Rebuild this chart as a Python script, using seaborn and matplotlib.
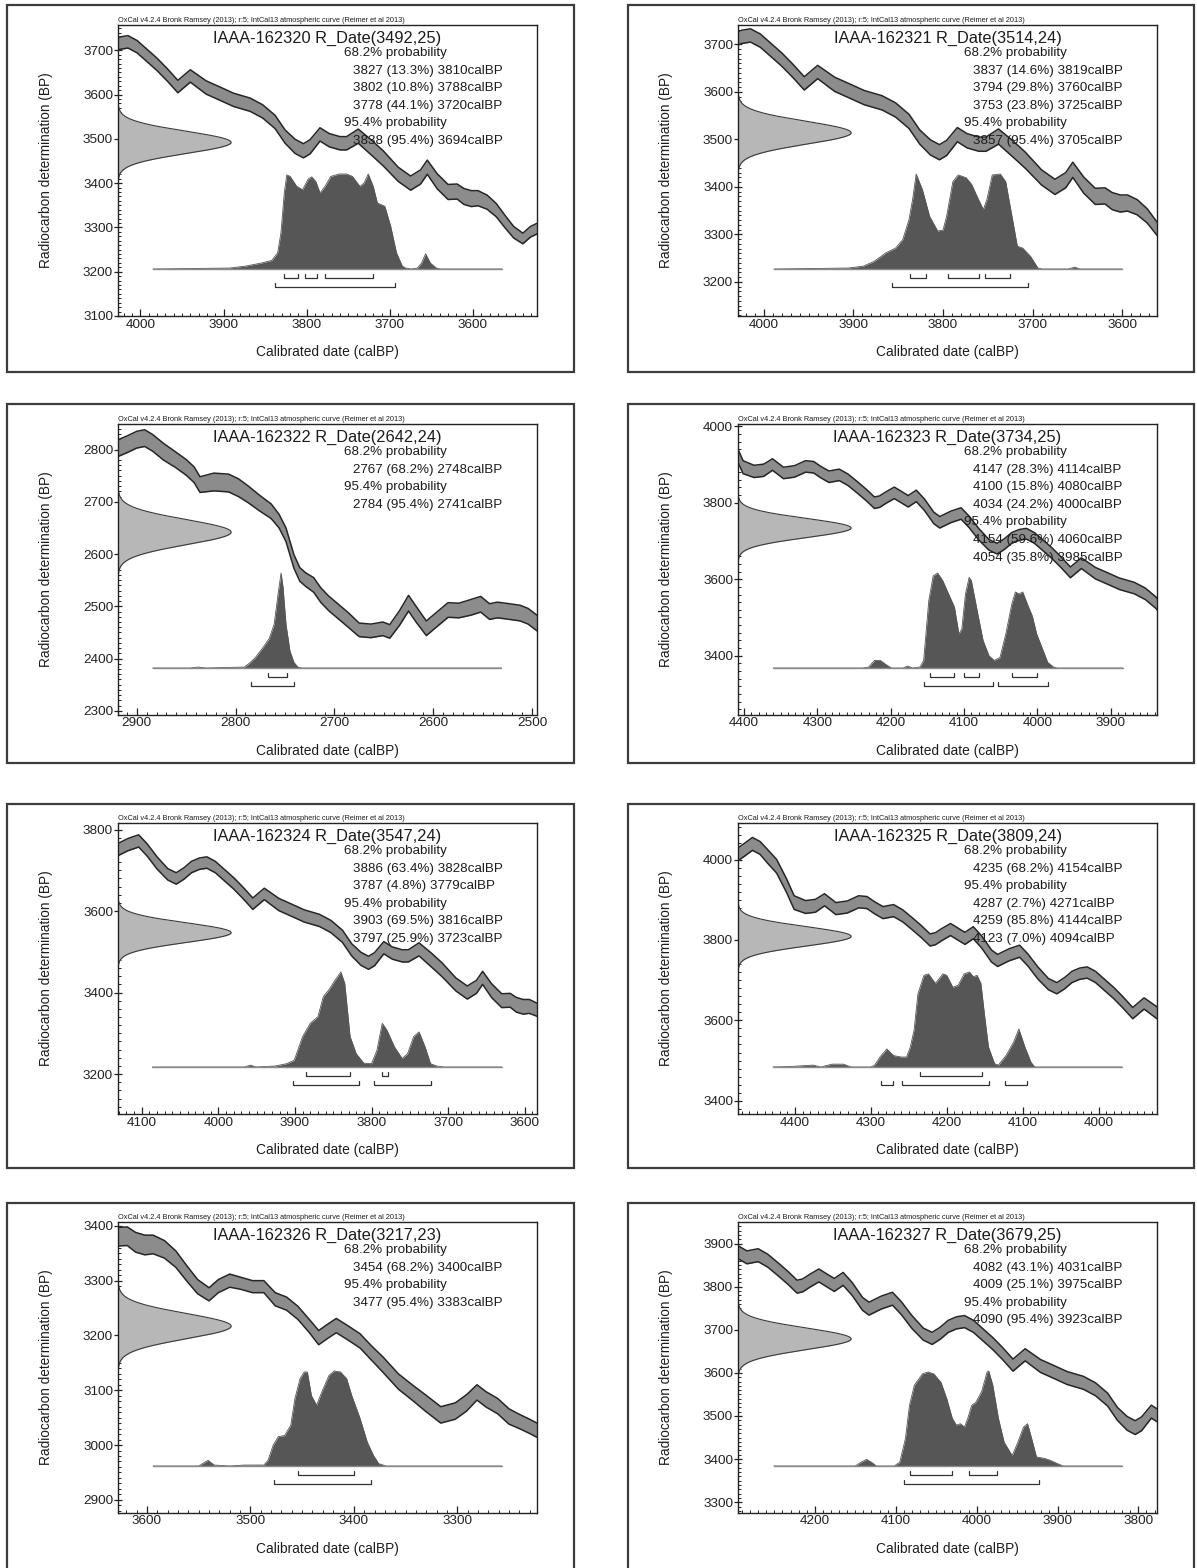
import numpy as np
import pandas as pd
import matplotlib
matplotlib.use("Agg")
import matplotlib.pyplot as plt
from matplotlib.patches import Rectangle
from matplotlib.ticker import MultipleLocator
import seaborn as sns

sns.set_theme(style="ticks")
plt.rcParams["font.family"] = ["Liberation Sans", "DejaVu Sans"]

HEADER = "OxCal v4.2.4 Bronk Ramsey (2013); r:5; IntCal13 atmospheric curve (Reimer et al 2013)"
X_LABEL = "Calibrated date (calBP)"
Y_LABEL = "Radiocarbon determination (BP)"

# ---- IntCal13 atmospheric curve (calBP, 14C BP, 1-sigma) ----
CURVE_A_CAL = [2495, 2504, 2512, 2523, 2535, 2543, 2552, 2562, 2574, 2585, 2597, 2607, 2617,
               2625, 2634, 2644, 2651, 2663, 2675, 2686, 2696, 2706, 2714, 2721, 2729, 2735,
               2741, 2749, 2756, 2764, 2776, 2787, 2797, 2807, 2822, 2836, 2842, 2850, 2861,
               2873, 2884, 2892, 2900, 2910, 2920]
CURVE_A_BP = [2468, 2481, 2487, 2490, 2493, 2490, 2504, 2498, 2492, 2493, 2474, 2458, 2484,
              2506, 2478, 2452, 2457, 2453, 2455, 2474, 2490, 2506, 2522, 2541, 2551, 2561,
              2586, 2637, 2663, 2682, 2698, 2714, 2727, 2736, 2738, 2733, 2752, 2766, 2781,
              2796, 2813, 2822, 2819, 2810, 2802]
CURVE_A_SIG = [15, 15, 15, 15, 15, 15, 15, 15, 14, 14, 14, 14, 15,
               15, 14, 13, 13, 13, 13, 14, 14, 14, 14, 14, 13, 13,
               13, 13, 13, 14, 15, 16, 17, 17, 17, 15, 15, 15, 15,
               16, 16, 16, 16, 16, 16]

CURVE_B_CAL = [3220, 3230, 3240, 3250, 3261, 3272, 3281, 3291, 3302, 3316, 3331, 3343, 3357,
               3372, 3383, 3394, 3406, 3417, 3425, 3434, 3443, 3454, 3465, 3476, 3487, 3498,
               3509, 3520, 3531, 3540, 3551, 3561, 3572, 3583, 3594, 3602, 3611, 3619, 3630,
               3643, 3655, 3663, 3675, 3690, 3708, 3722, 3738, 3752, 3760, 3773, 3784, 3796,
               3804, 3814, 3826, 3838, 3853, 3868, 3888, 3902, 3921, 3940, 3955, 3968, 3980,
               3992, 4004, 4015, 4025, 4035, 4045, 4055, 4066, 4080, 4093, 4104, 4118, 4133,
               4141, 4154, 4165, 4176, 4183, 4195, 4206, 4215, 4222, 4233, 4244, 4258, 4270,
               4284, 4295, 4305, 4316, 4331, 4346, 4361, 4373, 4386, 4401, 4411, 4424, 4436,
               4446, 4456, 4466, 4476]
CURVE_B_BP = [3024, 3034, 3043, 3052, 3071, 3083, 3096, 3077, 3062, 3055, 3077, 3095, 3116,
              3147, 3168, 3190, 3205, 3218, 3208, 3196, 3217, 3241, 3258, 3266, 3289, 3289,
              3295, 3300, 3290, 3275, 3289, 3312, 3339, 3357, 3366, 3365, 3370, 3381, 3380,
              3404, 3436, 3414, 3400, 3420, 3456, 3480, 3506, 3490, 3490, 3497, 3510, 3482,
              3473, 3483, 3505, 3538, 3562, 3577, 3588, 3600, 3616, 3642, 3618, 3645, 3668,
              3688, 3708, 3719, 3716, 3708, 3692, 3680, 3690, 3718, 3750, 3772, 3763, 3749,
              3760, 3795, 3818, 3804, 3812, 3826, 3814, 3803, 3800, 3820, 3838, 3860, 3873,
              3868, 3880, 3893, 3895, 3882, 3878, 3900, 3885, 3882, 3893, 3935, 3983, 4008,
              4029, 4039, 4025, 4012]
CURVE_B_SIG = [13, 13, 13, 14, 14, 14, 14, 15, 15, 15, 15, 14, 14,
               14, 13, 13, 13, 13, 13, 13, 12, 12, 12, 12, 11, 11,
               11, 12, 12, 12, 13, 14, 15, 16, 17, 18, 18, 17, 17,
               17, 16, 16, 16, 16, 17, 17, 16, 15, 15, 15, 15, 16,
               16, 16, 15, 15, 15, 15, 15, 15, 15, 14, 14, 14, 14,
               14, 14, 14, 14, 14, 14, 14, 14, 15, 15, 15, 15, 15,
               15, 15, 15, 15, 15, 15, 15, 15, 15, 15, 15, 15, 15,
               15, 15, 15, 15, 15, 15, 15, 16, 16, 17, 17, 17, 17,
               16, 16, 16, 16]

# ---- samples ----
LAB_CODES = ["IAAA-162320", "IAAA-162321", "IAAA-162322", "IAAA-162323",
             "IAAA-162324", "IAAA-162325", "IAAA-162326", "IAAA-162327"]
C14_AGE = [3492, 3514, 2642, 3734, 3547, 3809, 3217, 3679]
C14_ERR = [25, 24, 24, 25, 24, 24, 23, 25]

# calibrated ranges: (from, percent, to)
RANGES_68 = [
    [(3827, 13.3, 3810), (3802, 10.8, 3788), (3778, 44.1, 3720)],
    [(3837, 14.6, 3819), (3794, 29.8, 3760), (3753, 23.8, 3725)],
    [(2767, 68.2, 2748)],
    [(4147, 28.3, 4114), (4100, 15.8, 4080), (4034, 24.2, 4000)],
    [(3886, 63.4, 3828), (3787, 4.8, 3779)],
    [(4235, 68.2, 4154)],
    [(3454, 68.2, 3400)],
    [(4082, 43.1, 4031), (4009, 25.1, 3975)],
]
RANGES_95 = [
    [(3838, 95.4, 3694)],
    [(3857, 95.4, 3705)],
    [(2784, 95.4, 2741)],
    [(4154, 59.6, 4060), (4054, 35.8, 3985)],
    [(3903, 69.5, 3816), (3797, 25.9, 3723)],
    [(4287, 2.7, 4271), (4259, 85.8, 4144), (4123, 7.0, 4094)],
    [(3477, 95.4, 3383)],
    [(4090, 95.4, 3923)],
]

# calibrated probability distributions (calBP, relative probability)
DIST1_CAL = [3985, 3893, 3874, 3856, 3842, 3835, 3831, 3827, 3824, 3820, 3812, 3805, 3798,
             3794, 3789, 3784, 3778, 3771, 3761, 3752, 3745, 3736, 3731, 3726, 3720, 3715,
             3706, 3699, 3692, 3685, 3681, 3674, 3667, 3662, 3657, 3651, 3644, 3639, 3565]
DIST1_P = [0, 0.01, 0.03, 0.06, 0.09, 0.17, 0.38, 0.80, 0.99, 0.975, 0.87, 0.835, 0.95,
           0.97, 0.92, 0.80, 0.87, 0.975, 1.0, 1.0, 0.975, 0.87, 0.905, 1.0, 0.87, 0.695,
           0.66, 0.45, 0.17, 0.03, 0.01, 0, 0.01, 0.06, 0.16, 0.06, 0.01, 0, 0]
DIST2_CAL = [3989, 3906, 3889, 3877, 3864, 3853, 3845, 3838, 3834, 3830, 3823, 3815, 3806,
             3800, 3796, 3789, 3783, 3774, 3768, 3762, 3755, 3751, 3745, 3736, 3730, 3723,
             3717, 3711, 3702, 3694, 3689, 3660, 3653, 3647, 3600]
DIST2_P = [0, 0.01, 0.03, 0.08, 0.17, 0.22, 0.31, 0.52, 0.73, 1.0, 0.835, 0.555, 0.40,
           0.41, 0.555, 0.92, 0.99, 0.96, 0.89, 0.765, 0.625, 0.73, 0.99, 1.0, 0.92, 0.555,
           0.24, 0.22, 0.13, 0.01, 0, 0, 0.02, 0, 0]
DIST3_CAL = [2884, 2846, 2838, 2830, 2791, 2785, 2780, 2772, 2766, 2761, 2757, 2754, 2752,
             2749, 2745, 2741, 2737, 2733, 2531]
DIST3_P = [0, 0, 0.01, 0, 0.01, 0.06, 0.11, 0.22, 0.31, 0.46, 0.78, 1.0, 0.85,
           0.46, 0.18, 0.06, 0.01, 0, 0]
DIST4_CAL = [4360, 4238, 4230, 4222, 4214, 4207, 4199, 4183, 4177, 4170, 4160, 4155, 4148,
             4142, 4136, 4129, 4121, 4113, 4107, 4103, 4098, 4093, 4090, 4082, 4074, 4066,
             4059, 4051, 4043, 4035, 4030, 4025, 4020, 4012, 4007, 4001, 3994, 3986, 3978,
             3973, 3884]
DIST4_P = [0, 0, 0.01, 0.08, 0.08, 0.04, 0, 0, 0.02, 0, 0.01, 0.08, 0.71,
           0.97, 1.0, 0.92, 0.78, 0.64, 0.36, 0.41, 0.78, 0.955, 0.92, 0.60, 0.29, 0.13,
           0.08, 0.11, 0.36, 0.67, 0.80, 0.78, 0.80, 0.64, 0.55, 0.36, 0.22, 0.06, 0.01,
           0, 0]
DIST5_CAL = [4086, 3966, 3958, 3951, 3926, 3911, 3901, 3890, 3880, 3870, 3863, 3855, 3848,
             3840, 3835, 3828, 3820, 3810, 3800, 3793, 3786, 3780, 3770, 3760, 3753, 3745,
             3738, 3730, 3723, 3715, 3705, 3630]
DIST5_P = [0, 0, 0.02, 0, 0.01, 0.035, 0.07, 0.32, 0.46, 0.53, 0.74, 0.82, 0.91,
           1.0, 0.88, 0.32, 0.14, 0.04, 0.035, 0.175, 0.46, 0.39, 0.21, 0.09, 0.14, 0.32,
           0.37, 0.21, 0.035, 0.01, 0, 0]
DIST6_CAL = [4429, 4406, 4376, 4366, 4351, 4336, 4326, 4300, 4295, 4288, 4279, 4270, 4260,
             4253, 4248, 4243, 4238, 4230, 4224, 4215, 4205, 4200, 4192, 4185, 4177, 4170,
             4165, 4160, 4155, 4150, 4145, 4137, 4132, 4122, 4112, 4105, 4097, 4089, 4084,
             3969]
DIST6_P = [0, 0.005, 0.02, 0, 0.03, 0.03, 0, 0, 0.02, 0.105, 0.19, 0.12, 0.105,
           0.105, 0.21, 0.39, 0.77, 0.965, 0.98, 0.88, 0.98, 0.965, 0.84, 0.86, 0.98, 1.0,
           0.95, 0.965, 0.88, 0.53, 0.21, 0.035, 0.02, 0.12, 0.26, 0.40, 0.21, 0.05, 0,
           0]
DIST7_CAL = [3594, 3550, 3544, 3541, 3535, 3520, 3506, 3487, 3483, 3478, 3473, 3467, 3461,
             3457, 3452, 3448, 3445, 3441, 3436, 3431, 3424, 3419, 3413, 3407, 3402, 3394,
             3387, 3381, 3376, 3369, 3257]
DIST7_P = [0, 0, 0.04, 0.06, 0.01, 0, 0.01, 0.01, 0.06, 0.22, 0.31, 0.32, 0.43,
           0.71, 0.92, 0.99, 0.99, 0.74, 0.64, 0.78, 0.955, 1.0, 0.99, 0.92, 0.74, 0.50,
           0.25, 0.11, 0.025, 0, 0]
DIST8_CAL = [4251, 4150, 4143, 4136, 4130, 4124, 4102, 4095, 4088, 4083, 4077, 4067, 4060,
             4053, 4044, 4037, 4030, 4025, 4020, 4015, 4011, 4006, 4001, 3994, 3987, 3985,
             3980, 3973, 3966, 3956, 3949, 3942, 3937, 3932, 3926, 3916, 3909, 3900, 3893,
             3820]
DIST8_P = [0, 0, 0.04, 0.07, 0.04, 0, 0, 0.04, 0.29, 0.64, 0.85, 0.97, 0.99,
           0.97, 0.88, 0.71, 0.50, 0.43, 0.445, 0.41, 0.50, 0.64, 0.67, 0.78, 0.99, 1.0,
           0.85, 0.50, 0.25, 0.11, 0.25, 0.41, 0.445, 0.29, 0.095, 0.08, 0.06, 0.025, 0,
           0]

DISTS = [(DIST1_CAL, DIST1_P), (DIST2_CAL, DIST2_P), (DIST3_CAL, DIST3_P), (DIST4_CAL, DIST4_P),
         (DIST5_CAL, DIST5_P), (DIST6_CAL, DIST6_P), (DIST7_CAL, DIST7_P), (DIST8_CAL, DIST8_P)]

# axis ranges
X_RANGES = [(4027, 3523), (4029, 3561), (2919, 2495), (4408, 3837),
            (4131, 3584), (4475, 3923), (3628, 3223), (4295, 3777)]
Y_RANGES = [(3100, 3757), (3128, 3741), (2292, 2849), (3245, 4006),
            (3102, 3816), (3367, 4091), (2876, 3407), (3275, 3950)]
Y_STEPS = [100, 100, 100, 200, 200, 200, 100, 100]

# ---- layout (pixels) ----
W, H = 1197, 1568
AX_LEFT = [118, 738]
AX_TOP = [25, 424, 823, 1222]
AX_W, AX_H = 419, 291
BOX_LEFT = [7, 628]
BOX_W = [567, 566]
BOX_TOP = [5, 404, 804, 1203]
BOX_H = [367, 359, 364, 372]

BAND_FILL = "#8c8c8c"
EDGE = "#262626"
DIST_FILL = "#565656"
GAUSS_FILL = "#b7b7b7"
TEXT = "#1c1c1c"

BASE = 47 / AX_H          # baseline of calibrated distribution (axes fraction)
PEAK = 95 / AX_H          # height of tallest peak (axes fraction)
GAUSS_PEAK = 0.27         # height of the measured-date curve (axes fraction)

curve_a = pd.DataFrame({"cal": CURVE_A_CAL, "bp": CURVE_A_BP, "sig": CURVE_A_SIG})
curve_b = pd.DataFrame({"cal": CURVE_B_CAL, "bp": CURVE_B_BP, "sig": CURVE_B_SIG})
for c in (curve_a, curve_b):
    c["lo"] = c["bp"] - c["sig"]
    c["hi"] = c["bp"] + c["sig"]

fig = plt.figure(figsize=(W / 100, H / 100), dpi=100)
fig.patch.set_facecolor("white")


def px_rect(x, y, w, h):
    return [x / W, 1 - (y + h) / H, w / W, h / H]


def draw_panel(i):
    col, row = i % 2, i // 2
    # outer frame
    bx, by, bw, bh = px_rect(BOX_LEFT[col], BOX_TOP[row], BOX_W[col], BOX_H[row])
    fig.add_artist(Rectangle((bx, by), bw, bh, transform=fig.transFigure, fill=False,
                             lw=1.6, ec="#3c3c3c", zorder=0))

    ax = fig.add_axes(px_rect(AX_LEFT[col], AX_TOP[row], AX_W, AX_H))
    ax.set_facecolor("white")
    x0, x1 = X_RANGES[i]
    y0, y1 = Y_RANGES[i]

    # calibration curve band
    for c in (curve_a, curve_b):
        ax.fill_between(c["cal"], c["lo"], c["hi"], color=BAND_FILL, lw=0, zorder=2)
        sns.lineplot(data=c, x="cal", y="lo", ax=ax, color=EDGE, lw=1.1,
                     estimator=None, zorder=3)
        sns.lineplot(data=c, x="cal", y="hi", ax=ax, color=EDGE, lw=1.1,
                     estimator=None, zorder=3)

    # measured radiocarbon date on the y axis
    mu, sd = C14_AGE[i], C14_ERR[i]
    yy = np.linspace(mu - 4 * sd, mu + 4 * sd, 300)
    gx = GAUSS_PEAK * np.exp(-0.5 * ((yy - mu) / sd) ** 2)
    ytr = ax.get_yaxis_transform()
    ax.fill_betweenx(yy, 0, gx, transform=ytr, color=GAUSS_FILL, lw=0, zorder=4)
    ax.plot(gx, yy, transform=ytr, color="#3a3a3a", lw=0.8, zorder=4)

    # calibrated distribution
    xtr = ax.get_xaxis_transform()
    dcal, dp = DISTS[i]
    dcal = np.asarray(dcal, float)
    dy = BASE + PEAK * np.asarray(dp, float)
    ax.fill_between(dcal, BASE, dy, transform=xtr, color=DIST_FILL, lw=0, zorder=5)
    ax.plot(dcal, dy, transform=xtr, color=DIST_FILL, lw=0.6, zorder=5)
    ax.plot([dcal[0], dcal[-1]], [BASE, BASE], transform=xtr, color="#8a8a8a",
            lw=1.0, zorder=5)

    # range brackets
    tick = 4 / AX_H
    for rngs, off in ((RANGES_68[i], 9 / AX_H), (RANGES_95[i], 18 / AX_H)):
        yb = BASE - off
        for a, _, b in rngs:
            ax.plot([a, a, b, b], [yb + tick, yb, yb, yb + tick], transform=xtr,
                    color="#333333", lw=0.9, zorder=5)

    # labels
    ax.text(0, 1.004, HEADER, transform=ax.transAxes, fontsize=5.3, ha="left",
            va="bottom", color=TEXT)
    ax.text(0.5, 1 - 13 / AX_H, f"{LAB_CODES[i]} R_Date({C14_AGE[i]},{C14_ERR[i]})",
            transform=ax.transAxes, fontsize=11.8, ha="center", va="center",
            color=TEXT, zorder=6)
    lines = [("68.2% probability", 0.540)]
    lines += [(f"{a} ({p:.1f}%) {b}calBP", 0.561) for a, p, b in RANGES_68[i]]
    lines += [("95.4% probability", 0.540)]
    lines += [(f"{a} ({p:.1f}%) {b}calBP", 0.561) for a, p, b in RANGES_95[i]]
    for k, (s, xpos) in enumerate(lines):
        ax.text(xpos, 1 - (28 + 17.6 * k) / AX_H, s, transform=ax.transAxes,
                fontsize=9.6, ha="left", va="center", color=TEXT, zorder=6)

    ax.text(0.5, -36 / AX_H, X_LABEL, transform=ax.transAxes, fontsize=9.9,
            ha="center", va="center", color=TEXT)
    ax.text(-72 / AX_W, 0.5, Y_LABEL, transform=ax.transAxes, fontsize=9.8,
            rotation=90, ha="center", va="center", color=TEXT)
    ax.set_xlabel("")
    ax.set_ylabel("")

    # axes and ticks
    ax.set_xlim(x0, x1)
    ax.set_ylim(y0, y1)
    ax.xaxis.set_major_locator(MultipleLocator(100))
    ax.xaxis.set_minor_locator(MultipleLocator(10))
    ax.yaxis.set_major_locator(MultipleLocator(Y_STEPS[i]))
    ax.yaxis.set_minor_locator(MultipleLocator(Y_STEPS[i] / 10))
    ax.tick_params(axis="x", which="major", direction="in", length=5, width=0.9,
                   pad=1.8, labelsize=9.7, colors="#222222")
    ax.tick_params(axis="x", which="minor", direction="in", length=2.4, width=0.7,
                   colors="#222222")
    ax.tick_params(axis="y", which="major", direction="inout", length=5.8, width=0.9,
                   pad=0.6, labelsize=9.7, colors="#222222")
    ax.tick_params(axis="y", which="minor", direction="in", length=2.2, width=0.7,
                   colors="#222222")
    ax.tick_params(top=False, right=False)
    for sp in ax.spines.values():
        sp.set_visible(True)
        sp.set_color("#222222")
        sp.set_linewidth(1.0)
        sp.set_zorder(7)
    ax.grid(False)
    return ax


for i in range(8):
    draw_panel(i)

fig.savefig("out.png", dpi=100, facecolor="white")
